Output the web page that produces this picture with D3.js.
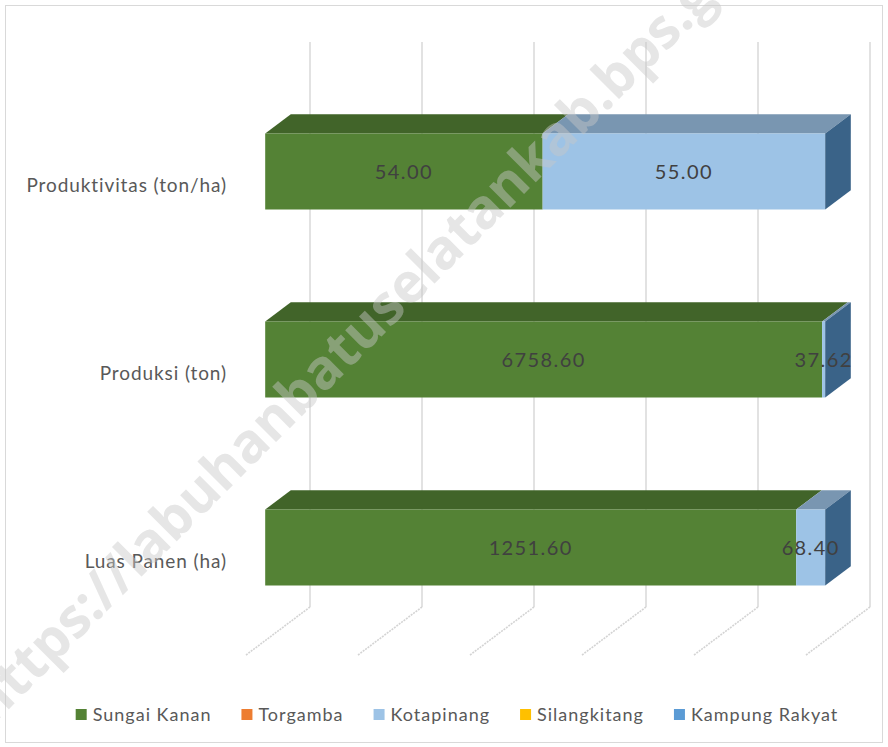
<!DOCTYPE html>
<html>
<head>
<meta charset="utf-8">
<script src="https://cdn.jsdelivr.net/npm/d3@7"></script>
<style>
  body { margin: 0; background: #fff; }
  svg { display: block; font-family: Lato, "Noto Sans", sans-serif; }
</style>
</head>
<body>
<div id="chart"></div>
<script>
// categories listed bottom -> top, as the spreadsheet does
const categories = ["Luas Panen (ha)", "Produksi (ton)", "Produktivitas (ton/ha)"];
const seriesNames = ["Sungai Kanan", "Torgamba", "Kotapinang", "Silangkitang", "Kampung Rakyat"];
const seriesColors = ["#548235", "#ed7d31", "#9dc3e6", "#ffc000", "#5b9bd5"];
const sungaiKanan = [1251.60, 6758.60, 54.00];
const torgamba = [0, 0, 0];
const kotapinang = [68.40, 37.62, 55.00];
const silangkitang = [0, 0, 0];
const kampungRakyat = [0, 0, 0];
const percentTicks = [0, 0.2, 0.4, 0.6, 0.8, 1];

const W = 888, H = 747;
// floor depth vector (back wall -> front edge)
const DEPTH_X = -64, DEPTH_Y = 48;
const BAR_BACK = 0.3, BAR_FRONT = 0.7;
const BAR_H = 76;
const WALL_TOP = 42, WALL_BOTTOM = 607;
const LEGEND_GAP = 30;

const seriesValues = [sungaiKanan, torgamba, kotapinang, silangkitang, kampungRakyat];

const x = d3.scaleLinear().domain([0, 1]).range([310, 870]);
const y = d3.scalePoint().domain(categories).range([547.5, 171.5]);

function shade(c, k) {
    const r = d3.rgb(c);
    return d3.rgb(r.r * k, r.g * k, r.b * k).formatHex();
}

// point on a bar: p = share, yf = y on bar front plane, d = depth
function proj(p, yf, d) {
    return [x(p) + DEPTH_X * d, yf + DEPTH_Y * (d - BAR_FRONT)];
}

const svg = d3.select("#chart").append("svg")
    .attr("width", W)
    .attr("height", H);

svg.append("rect")
    .attr("x", 5.5).attr("y", 5.5)
    .attr("width", W - 11).attr("height", H - 10)
    .style("fill", "#fff")
    .style("stroke", "#d9d9d9");

// back wall gridlines + floor lines
const grid = svg.append("g").attr("class", "grid");
grid.selectAll(".wall")
    .data(percentTicks)
    .enter().append("line")
        .attr("x1", (d) => x(d)).attr("x2", (d) => x(d))
        .attr("y1", WALL_TOP).attr("y2", WALL_BOTTOM)
        .style("stroke", "#d9d9d9")
        .style("stroke-width", 1.5);
grid.selectAll(".floor")
    .data(percentTicks)
    .enter().append("line")
        .attr("x1", (d) => x(d)).attr("y1", WALL_BOTTOM)
        .attr("x2", (d) => x(d) + DEPTH_X).attr("y2", WALL_BOTTOM + DEPTH_Y)
        .style("stroke", "#d4d4d4")
        .style("stroke-width", 1.6)
        .style("stroke-dasharray", "2,1");

// stack into shares per category
const rows = categories.map((c, i) => {
    const total = d3.sum(seriesValues, (s) => s[i]);
    let acc = 0;
    const segs = seriesValues.map((s, k) => {
        const seg = { name: seriesNames[k], color: seriesColors[k], value: s[i],
            p0: acc / total, p1: (acc + s[i]) / total };
        acc += s[i];
        return seg;
    });
    return { category: c, segs: segs };
});

const bars = svg.append("g").attr("class", "bars");
rows.forEach((row) => {
    const top = y(row.category) - BAR_H / 2,
        bottom = y(row.category) + BAR_H / 2;
    const g = bars.append("g");
    const segs = row.segs.filter((s) => s.value > 0);

    g.selectAll(".top")
        .data(segs)
        .enter().append("polygon")
            .attr("points", (s) => [
                proj(s.p0, top, BAR_FRONT), proj(s.p1, top, BAR_FRONT),
                proj(s.p1, top, BAR_BACK), proj(s.p0, top, BAR_BACK)].join(" "))
            .style("fill", (s) => shade(s.color, 0.77));

    g.selectAll(".front")
        .data(segs)
        .enter().append("rect")
            .attr("x", (s) => proj(s.p0, top, BAR_FRONT)[0])
            .attr("y", top)
            .attr("width", (s) => x(s.p1) - x(s.p0))
            .attr("height", BAR_H)
            .style("fill", (s) => s.color);

    // end cap takes the colour of the last series (zero-width box)
    const last = row.segs[row.segs.length - 1];
    g.append("polygon")
        .attr("points", [
            proj(1, top, BAR_FRONT), proj(1, top, BAR_BACK),
            proj(1, bottom, BAR_BACK), proj(1, bottom, BAR_FRONT)].join(" "))
        .style("fill", shade(last.color, 0.64));

    g.selectAll(".lbl")
        .data(segs)
        .enter().append("text")
            .attr("x", (s) => (proj(s.p0, top, BAR_FRONT)[0] + proj(s.p1, top, BAR_FRONT)[0]) / 2)
            .attr("y", y(row.category))
            .attr("dy", "0.35em")
            .attr("text-anchor", "middle")
            .style("font-size", "20px")
            .style("letter-spacing", "1.4px")
            .style("fill", "#404040")
            .text((s) => d3.format(".2f")(s.value));
});

// category axis sits on the front edge of the floor
const yAxisScale = y.copy().range(y.range().map((v) => v + DEPTH_Y * (1 - BAR_FRONT)));
const axis = svg.append("g")
    .attr("transform", "translate(" + (x(0) + DEPTH_X) + ",0)")
    .call(d3.axisLeft(yAxisScale).tickSize(0).tickPadding(19));
axis.select(".domain").remove();
axis.selectAll("text")
    .style("font-family", "Lato, 'Noto Sans', sans-serif")
    .style("font-size", "19px")
    .style("letter-spacing", "0.9px")
    .style("fill", "#595959");

// legend
const legend = svg.append("g").attr("class", "legend");
const items = legend.selectAll("g")
    .data(seriesNames)
    .enter().append("g");
items.append("rect")
    .attr("width", 11).attr("height", 11)
    .attr("y", -6)
    .style("fill", (d, i) => seriesColors[i]);
items.append("text")
    .attr("x", 17)
    .attr("dy", "0.35em")
    .style("font-size", "18px")
    .style("letter-spacing", "1px")
    .style("fill", "#595959")
    .text((d) => d);
let lx = 0;
const offsets = [];
items.each(function () {
    offsets.push(lx);
    lx += 17 + d3.select(this).select("text").node().getComputedTextLength() + LEGEND_GAP;
});
const totalW = lx - LEGEND_GAP;
items.attr("transform", (d, i) => "translate(" + (457 - totalW / 2 + offsets[i]) + ",715)");

// watermark
svg.append("text")
    .attr("transform", "translate(-8,726) rotate(-45)")
    .style("font-family", "'Open Sans', sans-serif")
    .style("font-weight", "bold")
    .style("font-size", "55px")
    .style("fill", "#c8c8c8")
    .style("opacity", 0.45)
    .text("https://labuhanbatuselatankab.bps.go.id");
</script>
</body>
</html>
